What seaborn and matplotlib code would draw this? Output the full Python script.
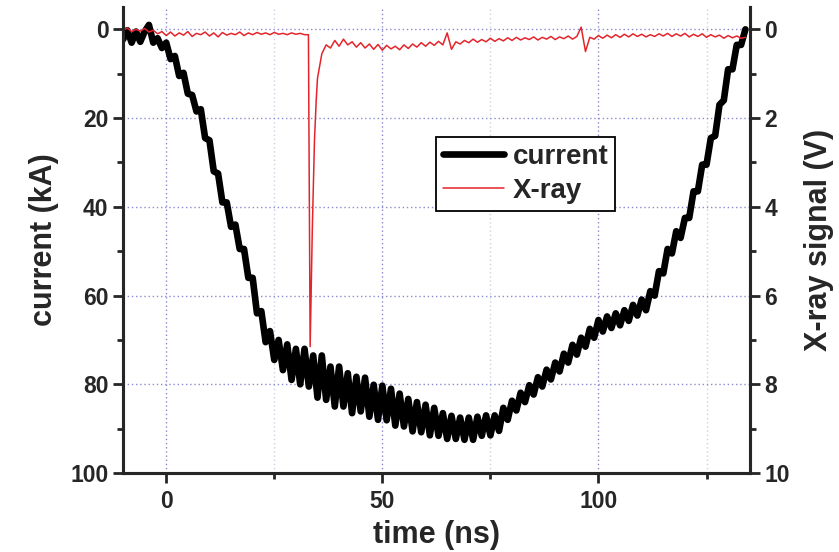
import matplotlib
matplotlib.use("Agg")
import matplotlib.pyplot as plt
import seaborn as sns
import numpy as np
import pandas as pd
from matplotlib.ticker import MultipleLocator

# current trace, sampled every 1 ns from -10 to 134 ns (kA)
current_time = np.arange(-10, 135, 1)
current_ka = [
    2.3, 0.2, 3.0, 0.5, 2.8, 0.5, -1.0, 3.0, 2.0, 4.2,
    3.0, 6.7, 6.0, 10.5, 9.8, 14.5, 14.8, 18.5, 18.0, 24.5,
    25.0, 32.0, 32.5, 39.0, 39.0, 44.5, 44.0, 49.5, 49.5, 56.0,
    56.0, 64.0, 63.5, 70.5, 68.0, 74.5, 70.0, 76.8, 71.0, 79.0,
    72.0, 80.0, 72.0, 80.5, 73.5, 83.0, 73.5, 83.5, 76.0, 85.0,
    76.0, 85.0, 77.5, 86.5, 78.3, 86.1, 78.5, 87.3, 80.1, 88.0,
    80.3, 88.1, 81.0, 89.3, 82.1, 89.5, 83.3, 90.6, 84.0, 90.8,
    84.6, 91.5, 85.3, 91.6, 86.5, 92.3, 87.1, 92.3, 87.5, 92.5,
    87.5, 92.5, 87.3, 91.6, 87.0, 91.5, 87.0, 90.5, 85.3, 88.0,
    83.7, 85.9, 81.9, 84.0, 80.2, 82.3, 78.4, 80.5, 76.7, 78.9,
    75.1, 77.1, 73.1, 75.1, 71.1, 73.3, 69.5, 71.5, 67.5, 69.5,
    65.5, 68.1, 64.7, 67.3, 64.0, 66.7, 63.3, 65.7, 62.1, 64.5,
    60.9, 63.3, 59.0, 60.0, 54.5, 55.0, 49.5, 50.5, 45.5, 47.0,
    42.5, 42.5, 36.5, 36.5, 30.5, 30.5, 24.5, 24.0, 17.0, 16.0,
    9.0, 9.0, 3.5, 3.5, 0.0,
]

# X-ray signal (V): 1 ns samples before and after the burst, finer around it
xray_time = np.concatenate([np.arange(-10, 33, 1),
                            [32.9, 33.3, 33.8, 34.3, 34.7],
                            np.arange(35, 135, 1)])
xray_v = [
    0.02, -0.03, 0.05, 0.00, 0.04, -0.02, 0.06, 0.02, 0.10, 0.05,
    0.14, 0.06, 0.15, 0.08, 0.13, 0.05, 0.16, 0.09, 0.12, 0.06,
    0.15, 0.08, 0.17, 0.07, 0.13, 0.09, 0.12, 0.06, 0.14, 0.08,
    0.12, 0.07, 0.11, 0.08, 0.12, 0.07, 0.11, 0.09, 0.12, 0.08,
    0.11, 0.09, 0.12,
    0.12, 7.15, 4.5, 2.5, 1.6,
    1.10, 0.55, 0.35, 0.42, 0.25, 0.38, 0.22, 0.35, 0.28, 0.40,
    0.30, 0.42, 0.33, 0.45, 0.34, 0.47, 0.36, 0.44, 0.38, 0.46,
    0.35, 0.43, 0.33, 0.40, 0.30, 0.38, 0.29, 0.36, 0.27, 0.35,
    0.08, 0.45, 0.28, 0.33, 0.25, 0.30, 0.22, 0.29, 0.23, 0.28,
    0.20, 0.27, 0.21, 0.26, 0.19, 0.25, 0.18, 0.24, 0.19, 0.23,
    0.17, 0.24, 0.18, 0.22, 0.16, 0.23, 0.17, 0.21, 0.15, 0.22,
    0.16, -0.05, 0.50, 0.18, 0.22, 0.14, 0.20, 0.13, 0.19, 0.12,
    0.18, 0.11, 0.17, 0.10, 0.16, 0.11, 0.17, 0.12, 0.16, 0.10,
    0.15, 0.09, 0.16, 0.10, 0.15, 0.09, 0.17, 0.11, 0.16, 0.10,
    0.18, 0.12, 0.17, 0.13, 0.20, 0.14, 0.19, 0.15, 0.20, 0.18,
]

df_cur = pd.DataFrame({"time": current_time, "current": current_ka})
df_xr = pd.DataFrame({"time": xray_time, "xray": xray_v})

sns.set_style("ticks")
plt.rcParams["font.family"] = ["Liberation Sans", "DejaVu Sans"]
plt.rcParams["font.weight"] = "bold"

fig = plt.figure(figsize=(8.39, 5.52), dpi=100)
ax = fig.add_axes([0.1466, 0.143, 0.747, 0.844])
ax2 = ax.twinx()

sns.lineplot(data=df_cur, x="time", y="current", ax=ax, color="black",
             linewidth=4.8, estimator=None, sort=False, label="current", legend=False)
sns.lineplot(data=df_xr, x="time", y="xray", ax=ax2, color="#e3252b",
             linewidth=1.1, estimator=None, sort=False, label="X-ray", legend=False)

ax.set_xlim(-10, 135)
ax.set_ylim(100, -5)
ax2.set_ylim(10, -0.5)

ax.xaxis.set_major_locator(MultipleLocator(50))
ax.xaxis.set_minor_locator(MultipleLocator(25))
ax.yaxis.set_major_locator(MultipleLocator(20))
ax.yaxis.set_minor_locator(MultipleLocator(10))
ax2.yaxis.set_major_locator(MultipleLocator(2))
ax2.yaxis.set_minor_locator(MultipleLocator(1))

# dotted grid, bluish on major, faint on minor x
ax.grid(which="major", color="#8a8ad0", linestyle=(0, (1, 2)), linewidth=1.0)
ax.grid(which="minor", axis="x", color="#d0d0e4", linestyle=(0, (1, 2)), linewidth=1.0)
ax.set_axisbelow(True)

for a in (ax, ax2):
    a.spines["top"].set_visible(False)
    for s in ("left", "right", "bottom"):
        a.spines[s].set_linewidth(2.2)
    a.tick_params(which="major", length=7, width=2.0, labelsize=16.5, direction="out")
    a.tick_params(which="minor", length=4.5, width=2.0, direction="out")
ax.tick_params(axis="x", pad=5)
ax.tick_params(axis="y", right=False)
ax2.tick_params(axis="y", left=False)

ax.set_xlabel("time (ns)", fontsize=22, fontweight="bold", labelpad=5)
ax.set_ylabel("current (kA)", fontsize=22, fontweight="bold", labelpad=8)
ax2.set_ylabel("X-ray signal (V)", fontsize=22, fontweight="bold", labelpad=10)

h1, l1 = ax.get_legend_handles_labels()
h2, l2 = ax2.get_legend_handles_labels()
leg = ax2.legend(h1 + h2, l1 + l2, loc="upper left", bbox_to_anchor=(0.50, 0.722),
                 fontsize=20, frameon=True, fancybox=False, handlelength=2.2,
                 borderpad=0.25, labelspacing=0.3, handletextpad=0.3, borderaxespad=0)
leg.get_frame().set_edgecolor("black")
leg.get_frame().set_linewidth(1.3)
leg.get_frame().set_alpha(1)
for t in leg.get_texts():
    t.set_fontweight("bold")

fig.savefig("out.png", dpi=100)
